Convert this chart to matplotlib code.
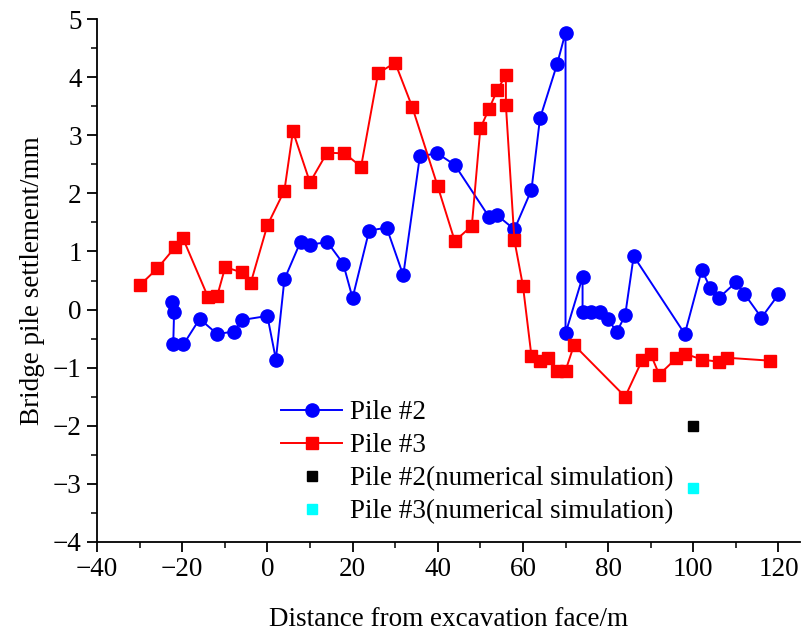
import matplotlib
matplotlib.use("Agg")
import matplotlib.pyplot as plt
from matplotlib.ticker import MultipleLocator

plt.rcParams['font.family'] = ['Liberation Serif', 'DejaVu Serif']
plt.rcParams['mathtext.fontset'] = 'stix'

# Monitored settlement of pile #2
pile2_x = [-22.3, -21.9, -22.1, -19.7, -15.9, -11.8, -7.9, -6.0, 0.0, 2.0, 4.0, 7.8, 10.0,
           14.1, 17.8, 20.0, 23.9, 28.0, 31.9, 35.8, 39.9, 44.0, 52.0, 54.0, 58.0, 62.0,
           64.0, 68.0, 70.0, 70.0, 74.0, 74.0, 76.0, 78.0, 80.0, 82.0, 84.0, 86.0, 98.0,
           102.0, 104.0, 106.0, 110.0, 112.0, 116.0, 120.0]
pile2_y = [0.13, -0.04, -0.59, -0.60, -0.16, -0.42, -0.38, -0.18, -0.11, -0.86, 0.52, 1.17,
           1.12, 1.16, 0.79, 0.20, 1.36, 1.41, 0.59, 2.64, 2.69, 2.49, 1.60, 1.62, 1.38, 2.06,
           3.29, 4.22, 4.77, -0.41, 0.56, -0.04, -0.04, -0.04, -0.16, -0.39, -0.10, 0.92,
           -0.42, 0.68, 0.37, 0.20, 0.47, 0.27, -0.14, 0.26]

# Monitored settlement of pile #3
pile3_x = [-29.8, -25.8, -21.6, -19.9, -13.9, -11.8, -9.9, -6.0, -3.9, 0.0, 4.0, 6.0, 10.0,
           14.0, 18.1, 22.0, 26.0, 30.0, 34.0, 40.0, 44.0, 48.0, 50.0, 52.0, 54.0, 56.0, 56.0,
           58.0, 60.0, 62.0, 64.0, 66.0, 68.0, 70.0, 72.0, 84.0, 88.0, 90.0, 92.0, 96.0, 98.0,
           102.0, 106.0, 108.0, 118.0]
pile3_y = [0.43, 0.71, 1.08, 1.24, 0.21, 0.23, 0.73, 0.64, 0.46, 1.45, 2.05, 3.07, 2.19,
           2.70, 2.69, 2.46, 4.07, 4.25, 3.49, 2.12, 1.18, 1.44, 3.12, 3.45, 3.78, 4.04, 3.52,
           1.19, 0.41, -0.80, -0.89, -0.83, -1.06, -1.05, -0.61, -1.50, -0.87, -0.77, -1.12,
           -0.84, -0.76, -0.86, -0.90, -0.83, -0.88]

# Numerical simulation results
sim2_x, sim2_y = [100], [-2.0]
sim3_x, sim3_y = [100], [-3.07]

fig = plt.figure(figsize=(8.03, 6.39), dpi=100)
ax = fig.add_axes([0.1208, 0.152, 0.8752, 0.818])

ax.plot(pile2_x, pile2_y, color='#0000ff', lw=1.4, marker='o', ms=9.5, label='Pile #2')
ax.plot(pile3_x, pile3_y, color='#ff0000', lw=1.4, marker='s', ms=8.5, label='Pile #3')
ax.plot(sim2_x, sim2_y, ls='none', color='black', marker='s', ms=7.5,
        label='Pile #2(numerical simulation)')
ax.plot(sim3_x, sim3_y, ls='none', color='#00ffff', marker='s', ms=7.5,
        label='Pile #3(numerical simulation)')

ax.set_xlim(-40, 125)
ax.set_ylim(-4, 5)
ax.xaxis.set_major_locator(MultipleLocator(20))
ax.xaxis.set_minor_locator(MultipleLocator(10))
ax.yaxis.set_major_locator(MultipleLocator(1))
ax.yaxis.set_minor_locator(MultipleLocator(0.5))

for side in ('top', 'right'):
    ax.spines[side].set_visible(False)
for side in ('left', 'bottom'):
    ax.spines[side].set_linewidth(1.3)

ax.tick_params(which='major', direction='out', length=7, width=1.3, labelsize=19.5, pad=4)
ax.tick_params(which='minor', direction='out', length=4, width=1.1)

ax.set_xlabel('Distance from excavation face/m', fontsize=19.5, labelpad=18)
ax.set_ylabel('Bridge pile settlement/mm', fontsize=19.5, labelpad=6)

ax.legend(loc='upper left', bbox_to_anchor=(0.247, 0.292), frameon=False, fontsize=19.5,
          handlelength=2.25, handletextpad=0.3, labelspacing=0.3, borderaxespad=0)

fig.savefig('out.png', dpi=100)
